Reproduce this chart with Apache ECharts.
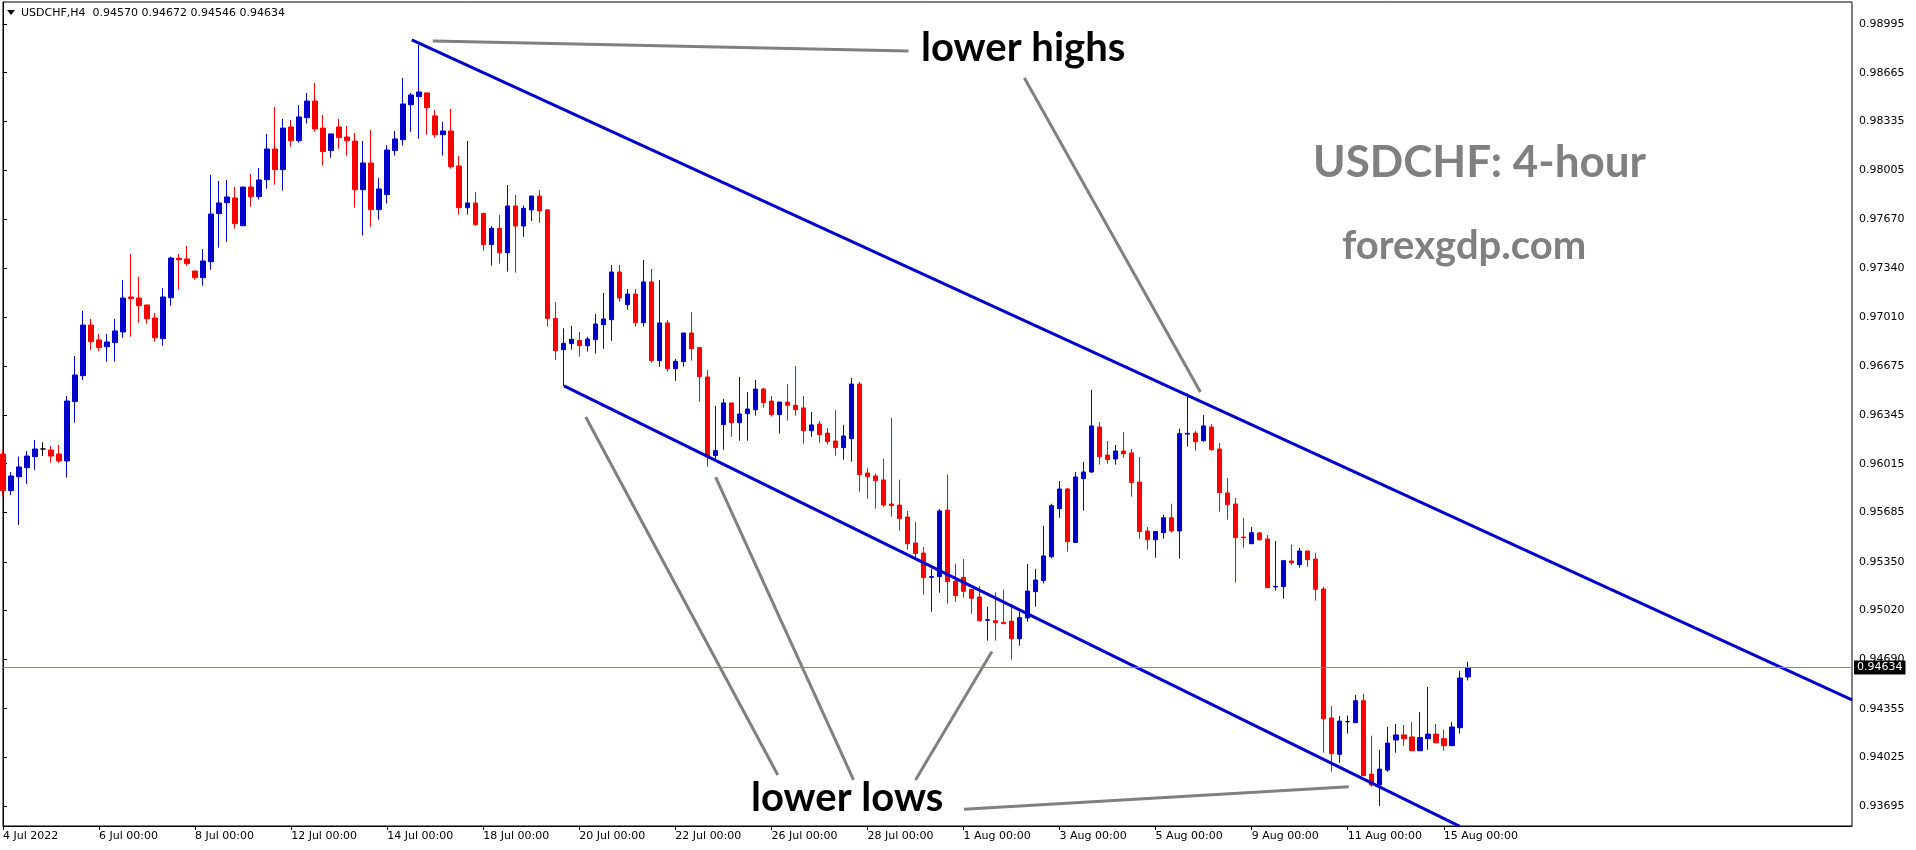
<!DOCTYPE html>
<html>
<head>
<meta charset="utf-8">
<title>USDCHF H4</title>
<script src="https://cdn.jsdelivr.net/npm/echarts@6/dist/echarts.min.js"></script>
<style>
    html, body {margin: 0; padding: 0; background: #fff;}
    #main {width: 1916px; height: 850px;}
</style>
</head>
<body>
<div id="main"></div>
<script>
// 行情数据 (H4, 4 Jul 2022 - 15 Aug 2022)
let symbol = 'USDCHF,H4';
let opens = [
    0.96081, 0.95833, 0.95927, 0.95988, 0.96063, 0.96115, 0.96108, 0.96081, 0.96034, 0.96436, 0.96612, 0.96955,
    0.96854, 0.96808, 0.96836, 0.96908, 0.97145, 0.97138, 0.97091, 0.97003, 0.96863, 0.97140, 0.97407, 0.97403,
    0.97321, 0.97276, 0.97384, 0.97710, 0.97784, 0.97816, 0.97628, 0.97890, 0.97825, 0.97940, 0.98148, 0.98008,
    0.98297, 0.98204, 0.98360, 0.98473, 0.98290, 0.98137, 0.98297, 0.98229, 0.98202, 0.97872, 0.98053, 0.97737,
    0.97839, 0.98137, 0.98211, 0.98448, 0.98503, 0.98528, 0.98372, 0.98245, 0.98270, 0.98033, 0.97750, 0.97782,
    0.97712, 0.97500, 0.97610, 0.97445, 0.97762, 0.97626, 0.97735, 0.97829, 0.97735, 0.97000, 0.96788, 0.96829,
    0.96851, 0.96815, 0.96856, 0.96957, 0.96991, 0.97314, 0.97093, 0.97165, 0.96971, 0.97247, 0.96714, 0.96969,
    0.96659, 0.96707, 0.96901, 0.96802, 0.96603, 0.96070, 0.96280, 0.96427, 0.96293, 0.96354, 0.96381, 0.96521,
    0.96440, 0.96348, 0.96433, 0.96411, 0.96393, 0.96239, 0.96284, 0.96223, 0.96169, 0.96124, 0.96185, 0.96555,
    0.95952, 0.95932, 0.95905, 0.95742, 0.95735, 0.95654, 0.95478, 0.95410, 0.95245, 0.95250, 0.95701, 0.95220,
    0.95245, 0.95164, 0.95112, 0.94954, 0.94951, 0.94940, 0.94949, 0.94829, 0.94970, 0.95148, 0.95223, 0.95385,
    0.95710, 0.95844, 0.95482, 0.95914, 0.95959, 0.96264, 0.96074, 0.96047, 0.96101, 0.96088, 0.95891, 0.95559,
    0.95500, 0.95548, 0.95649, 0.95559, 0.96216, 0.96223, 0.96171, 0.96264, 0.96115, 0.95817, 0.95742, 0.95518,
    0.95473, 0.95546, 0.95505, 0.95180, 0.95182, 0.95356, 0.95331, 0.95424, 0.95369, 0.95166, 0.94292, 0.94046,
    0.94267, 0.94260, 0.94409, 0.93912, 0.93838, 0.93939, 0.94143, 0.94177, 0.94163, 0.94070, 0.94152, 0.94183,
    0.94152, 0.94104, 0.94226, 0.94570
];
let closes = [
    0.95833, 0.95932, 0.95993, 0.96067, 0.96115, 0.96115, 0.96067, 0.96034, 0.96440, 0.96616, 0.96955, 0.96842,
    0.96802, 0.96840, 0.96915, 0.97138, 0.97134, 0.97086, 0.96998, 0.96869, 0.97145, 0.97409, 0.97398, 0.97371,
    0.97276, 0.97389, 0.97707, 0.97782, 0.97823, 0.97642, 0.97890, 0.97825, 0.97938, 0.98148, 0.98008, 0.98290,
    0.98204, 0.98365, 0.98473, 0.98284, 0.98130, 0.98250, 0.98225, 0.98204, 0.97872, 0.98053, 0.97737, 0.97877,
    0.98141, 0.98216, 0.98453, 0.98514, 0.98534, 0.98428, 0.98245, 0.98270, 0.98028, 0.97750, 0.97782, 0.97635,
    0.97500, 0.97610, 0.97445, 0.97762, 0.97626, 0.97746, 0.97829, 0.97728, 0.97000, 0.96781, 0.96831, 0.96858,
    0.96815, 0.96860, 0.96962, 0.96996, 0.97314, 0.97138, 0.97165, 0.96971, 0.97247, 0.96714, 0.96969, 0.96659,
    0.96709, 0.96901, 0.96795, 0.96605, 0.96063, 0.96104, 0.96427, 0.96293, 0.96352, 0.96386, 0.96521, 0.96429,
    0.96348, 0.96433, 0.96411, 0.96381, 0.96239, 0.96278, 0.96212, 0.96165, 0.96124, 0.96203, 0.96555, 0.95941,
    0.95927, 0.95900, 0.95735, 0.95731, 0.95643, 0.95473, 0.95406, 0.95243, 0.95250, 0.95695, 0.95216, 0.95121,
    0.95150, 0.95103, 0.94951, 0.94958, 0.94938, 0.94931, 0.94829, 0.94972, 0.95152, 0.95227, 0.95390, 0.95731,
    0.95844, 0.95487, 0.95925, 0.95959, 0.96271, 0.96063, 0.96043, 0.96101, 0.96083, 0.95887, 0.95555, 0.95500,
    0.95555, 0.95649, 0.95559, 0.96219, 0.96221, 0.96164, 0.96271, 0.96110, 0.95819, 0.95738, 0.95514, 0.95514,
    0.95548, 0.95500, 0.95175, 0.95184, 0.95358, 0.95344, 0.95424, 0.95365, 0.95164, 0.94287, 0.94050, 0.94271,
    0.94267, 0.94409, 0.93901, 0.93838, 0.93946, 0.94122, 0.94177, 0.94152, 0.94070, 0.94159, 0.94183, 0.94125,
    0.94104, 0.94231, 0.94563, 0.94634
];
let lows = [
    0.95792, 0.95803, 0.95600, 0.95878, 0.95973, 0.96067, 0.96022, 0.96022, 0.95921, 0.96293, 0.96583, 0.96786,
    0.96779, 0.96707, 0.96707, 0.96869, 0.96876, 0.96971, 0.96964, 0.96842, 0.96815, 0.97086, 0.97195, 0.97357,
    0.97262, 0.97222, 0.97330, 0.97479, 0.97520, 0.97608, 0.97628, 0.97757, 0.97805, 0.97879, 0.97906, 0.97866,
    0.98164, 0.98191, 0.98320, 0.98265, 0.98035, 0.98089, 0.98150, 0.98103, 0.97750, 0.97561, 0.97622, 0.97669,
    0.97778, 0.98103, 0.98171, 0.98265, 0.98218, 0.98245, 0.98225, 0.98103, 0.98015, 0.97703, 0.97703, 0.97628,
    0.97459, 0.97357, 0.97371, 0.97317, 0.97310, 0.97554, 0.97660, 0.97648, 0.96944, 0.96718, 0.96542, 0.96788,
    0.96741, 0.96775, 0.96761, 0.96795, 0.96849, 0.97113, 0.97059, 0.96944, 0.96944, 0.96700, 0.96673, 0.96639,
    0.96578, 0.96673, 0.96714, 0.96436, 0.95995, 0.96043, 0.96110, 0.96198, 0.96171, 0.96171, 0.96341, 0.96395,
    0.96334, 0.96219, 0.96307, 0.96341, 0.96151, 0.96198, 0.96158, 0.96144, 0.96070, 0.96043, 0.96029, 0.95826,
    0.95778, 0.95711, 0.95724, 0.95656, 0.95561, 0.95433, 0.95378, 0.95128, 0.95012, 0.95141, 0.95067, 0.95080,
    0.95107, 0.94999, 0.94945, 0.94816, 0.94816, 0.94931, 0.94687, 0.94782, 0.94945, 0.95046, 0.95204, 0.95374,
    0.95649, 0.95419, 0.95480, 0.95697, 0.95952, 0.96009, 0.96015, 0.96009, 0.96056, 0.95792, 0.95507, 0.95433,
    0.95378, 0.95507, 0.95548, 0.95372, 0.96131, 0.96104, 0.96164, 0.96104, 0.95690, 0.95636, 0.95209, 0.95446,
    0.95473, 0.95494, 0.95175, 0.95155, 0.95100, 0.95331, 0.95311, 0.95317, 0.95087, 0.94057, 0.93928, 0.93989,
    0.94186, 0.94260, 0.93901, 0.93826, 0.93695, 0.93928, 0.94057, 0.94104, 0.94070, 0.94070, 0.94077, 0.94118,
    0.94070, 0.94104, 0.94186, 0.94546
];
let highs = [
    0.96108, 0.95959, 0.96063, 0.96101, 0.96176, 0.96160, 0.96135, 0.96142, 0.96474, 0.96745, 0.97050, 0.96996,
    0.96894, 0.96894, 0.96996, 0.97260, 0.97436, 0.97281, 0.97091, 0.97037, 0.97206, 0.97418, 0.97436, 0.97491,
    0.97321, 0.97470, 0.97972, 0.97931, 0.97938, 0.97890, 0.97890, 0.97979, 0.98019, 0.98250, 0.98433, 0.98351,
    0.98345, 0.98446, 0.98528, 0.98595, 0.98378, 0.98250, 0.98351, 0.98304, 0.98256, 0.98202, 0.98277, 0.97951,
    0.98175, 0.98270, 0.98629, 0.98528, 0.98853, 0.98528, 0.98412, 0.98331, 0.98419, 0.98100, 0.98202, 0.97857,
    0.97712, 0.97626, 0.97701, 0.97904, 0.97836, 0.97766, 0.97829, 0.97870, 0.97741, 0.97111, 0.96933, 0.96948,
    0.96908, 0.96876, 0.97030, 0.97172, 0.97362, 0.97362, 0.97199, 0.97199, 0.97396, 0.97335, 0.97260, 0.96989,
    0.96725, 0.96901, 0.97043, 0.96808, 0.96650, 0.96406, 0.96454, 0.96427, 0.96603, 0.96501, 0.96582, 0.96528,
    0.96474, 0.96433, 0.96555, 0.96677, 0.96474, 0.96366, 0.96305, 0.96257, 0.96379, 0.96278, 0.96596, 0.96569,
    0.95988, 0.95948, 0.96049, 0.96327, 0.95907, 0.95695, 0.95622, 0.95451, 0.95304, 0.95708, 0.95941, 0.95338,
    0.95369, 0.95164, 0.95184, 0.95046, 0.95143, 0.95162, 0.95062, 0.95012, 0.95335, 0.95302, 0.95593, 0.95744,
    0.95898, 0.95851, 0.95959, 0.96027, 0.96515, 0.96298, 0.96169, 0.96142, 0.96230, 0.96115, 0.96061, 0.95586,
    0.95555, 0.95670, 0.95744, 0.96253, 0.96492, 0.96237, 0.96345, 0.96284, 0.96155, 0.95918, 0.95783, 0.95649,
    0.95586, 0.95552, 0.95532, 0.95491, 0.95363, 0.95466, 0.95444, 0.95424, 0.95412, 0.95182, 0.94373, 0.94305,
    0.94308, 0.94448, 0.94457, 0.94172, 0.94075, 0.94231, 0.94251, 0.94244, 0.94265, 0.94332, 0.94502, 0.94251,
    0.94213, 0.94265, 0.94610, 0.94672
];

// 横轴: 每 12 根 K 线一个日期标签
let dateLabels = ['4 Jul 2022', '6 Jul 00:00', '8 Jul 00:00', '12 Jul 00:00', '14 Jul 00:00', '18 Jul 00:00',
    '20 Jul 00:00', '22 Jul 00:00', '26 Jul 00:00', '28 Jul 00:00', '1 Aug 00:00', '3 Aug 00:00',
    '5 Aug 00:00', '9 Aug 00:00', '11 Aug 00:00', '15 Aug 00:00'];
let labelStep = 12;
let slotCount = 232; // 含右侧空白

// 纵轴刻度
let priceTicks = [0.98995, 0.98665, 0.98335, 0.98005, 0.97670, 0.97340, 0.97010, 0.96675, 0.96345,
    0.96015, 0.95685, 0.95350, 0.95020, 0.94690, 0.94355, 0.94025, 0.93695];
let priceMin = 0.93560, priceMax = 0.99144;

// 通道线 [bar, price]
let upperChannel = [[51.07, 0.98887], [231, 0.94414]];
let lowerChannel = [[70.09, 0.96542], [182, 0.93557]];

// 灰色指示线
let pointerLines = [
    [[53.69, 0.98880], [113.13, 0.98812]],
    [[127.61, 0.98629], [149.59, 0.96501]],
    [[72.8, 0.96332], [96.8, 0.93906]],
    [[89.03, 0.95925], [106.26, 0.93872]],
    [[123.55, 0.94743], [114.0, 0.93872]],
    [[120.07, 0.93673], [168.13, 0.93826]]
];

let categories = [];
for (let i = 0; i < slotCount; i++) {
    categories.push(String(i));
}
let candles = opens.map(function (o, i) {
    return [o, closes[i], lows[i], highs[i]];
});
let last = opens.length - 1;
let titleText = symbol + '  ' + [opens[last], highs[last], lows[last], closes[last]].map(function (v) {
    return v.toFixed(5);
}).join(' ');

function showTick(index) {
    return index % labelStep === 0 && index / labelStep < dateLabels.length;
}

function segment(points, color) {
    return {
        type: 'line',
        xAxisIndex: 1,
        yAxisIndex: 0,
        data: points,
        symbol: 'none',
        silent: true,
        clip: true,
        z: 3,
        lineStyle: {color: color, width: 3}
    };
}

let smallFont = 'DejaVu Sans';
let series = [{
    type: 'candlestick',
    xAxisIndex: 0,
    yAxisIndex: 0,
    data: candles,
    barWidth: 5,
    silent: true,
    itemStyle: {
        color: '#0000CD',
        color0: '#FF0000',
        borderColor: '#0000CD',
        borderColor0: '#FF0000',
        borderColorDoji: '#000000',
        borderWidth: 1
    },
    markLine: {
        silent: true,
        precision: 5,
        symbol: ['none', 'none'],
        data: [{yAxis: closes[last]}],
        lineStyle: {color: '#7b8aa0', width: 1, type: 'solid'},
        label: {
            position: 'end',
            distance: 2,
            formatter: function (p) {
                return Number(p.value).toFixed(5);
            },
            color: '#fff',
            backgroundColor: '#000',
            padding: [2, 3, 1, 3],
            fontFamily: smallFont,
            fontSize: 11
        }
    }
}];
series.push(segment(upperChannel, '#0000CD'));
series.push(segment(lowerChannel, '#0000CD'));
pointerLines.forEach(function (p) {
    series.push(segment(p, '#808080'));
});

let myChart = echarts.init(document.getElementById('main'), null, {renderer: 'canvas'});
let option = {
    animation: false,
    backgroundColor: '#fff',
    grid: {
        left: 2,
        right: 64,
        top: 2,
        bottom: 24,
        show: true,
        borderColor: '#000',
        borderWidth: 1
    },
    xAxis: [{
        type: 'category',
        data: categories,
        boundaryGap: false,
        axisLine: {lineStyle: {color: '#000', width: 1}},
        axisTick: {show: true, length: 4, interval: showTick, lineStyle: {color: '#000'}},
        axisLabel: {
            interval: 0,
            hideOverlap: false,
            showMinLabel: true,
            showMaxLabel: false,
            align: 'left',
            margin: 5,
            color: '#000',
            fontFamily: smallFont,
            fontSize: 11,
            formatter: function (value) {
                let i = Number(value);
                return showTick(i) ? dateLabels[i / labelStep] : '';
            }
        },
        splitLine: {show: false}
    }, {
        type: 'value',
        min: 0,
        max: slotCount - 1,
        show: false
    }],
    yAxis: {
        type: 'value',
        position: 'right',
        min: priceMin,
        max: priceMax,
        axisLine: {show: true, lineStyle: {color: '#000', width: 1}},
        axisTick: {show: true, length: 4, customValues: priceTicks, lineStyle: {color: '#000'}},
        axisLabel: {
            customValues: priceTicks,
            margin: 7,
            color: '#000',
            fontFamily: smallFont,
            fontSize: 11,
            formatter: function (v) {
                return v.toFixed(5);
            }
        },
        splitLine: {show: false}
    },
    graphic: [
        {type: 'polygon', shape: {points: [[7, 10], [15, 10], [11, 15]]}, style: {fill: '#000'}},
        {type: 'text', x: 21, y: 13, style: {text: titleText, font: '11px "DejaVu Sans"', fill: '#000', verticalAlign: 'middle'}},
        {type: 'text', x: 921, y: 48, style: {text: 'lower highs', font: 'bold 40px Lato', fill: '#000', verticalAlign: 'middle'}},
        {type: 'text', x: 751, y: 798, style: {text: 'lower lows', font: 'bold 40px Lato', fill: '#000', verticalAlign: 'middle'}},
        {type: 'text', x: 1313, y: 163, style: {text: 'USDCHF: 4-hour', font: 'bold 44px Lato', fill: '#808080', verticalAlign: 'middle'}},
        {type: 'text', x: 1342, y: 246, style: {text: 'forexgdp.com', font: 'bold 40px Lato', fill: '#808080', verticalAlign: 'middle'}}
    ],
    series: series
};
myChart.setOption(option);
</script>
</body>
</html>
